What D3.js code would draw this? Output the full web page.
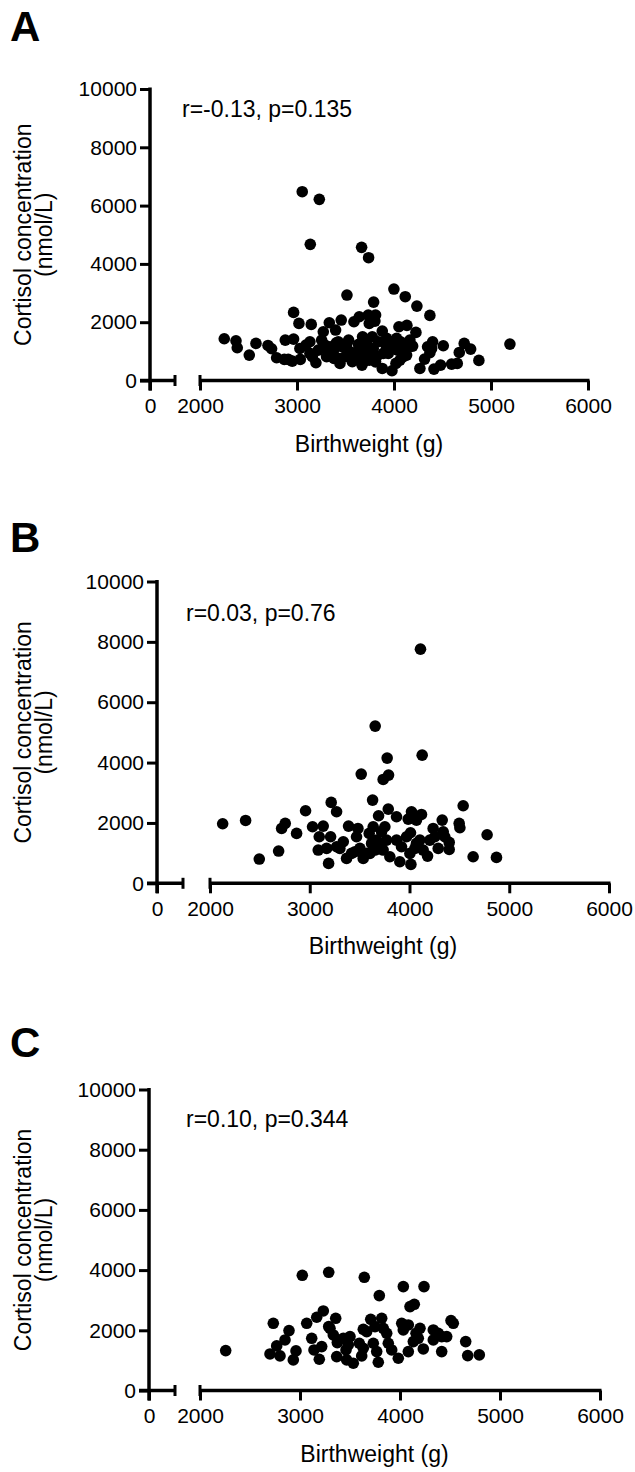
<!DOCTYPE html>
<html><head><meta charset="utf-8">
<script src="https://cdn.jsdelivr.net/npm/d3@7"></script>
<style>
html,body{margin:0;padding:0;background:#fff;}
svg text{font-family:"Liberation Sans",Arial,Helvetica,sans-serif;fill:#000;}
</style></head>
<body>
<svg id="chart" width="635" height="1472"></svg>
<script>
// ---------- data ----------
const panelLabels = ["A", "B", "C"];
const annotations = ["r=-0.13, p=0.135", "r=0.03, p=0.76", "r=0.10, p=0.344"];
const yTicks = [0, 2000, 4000, 6000, 8000, 10000];
const xTicksLow = [0];
const xTicksHigh = [2000, 3000, 4000, 5000, 6000];
const yTitle = ["Cortisol concentration", "(nmol/L)"];
const xTitle = "Birthweight (g)";

const aX = [3054,3230,3137,3666,3738,3999,3515,4116,4236,3790,4370,2965,3020,3147,3333,3456,3587,3642,3735,3810,3745,3803,4051,4133,3879,4226,3271,3398,2250,2371,2384,2508,2577,2701,2738,2790,2879,2965,2869,2951,3034,3030,3133,3133,3195,3219,3254,3340,3381,3443,3463,3532,3546,3570,3632,3670,3676,3711,3745,3776,3786,3821,3879,3917,3941,3979,4027,4037,4061,4102,4130,4192,4267,4315,4346,4398,4412,4480,4508,4594,4652,4673,4724,4790,4875,5195,4370,4388,3374,3426,3494,3511,3587,3649,3700,3718,3752,3838,3924,3993,4068,4096,4157,3305,3322,3436,3635,2910,3092,3158,3288,3405,3560,3690,3810,3889,4020,4164,3941];
const aY = [6477,6214,4670,4567,4212,3137,2931,2874,2553,2690,2233,2336,1958,1924,1981,2073,2016,2187,2245,2245,1958,2038,1844,1890,1695,1650,1672,1730,1432,1364,1123,872,1272,1203,1089,780,1386,1421,723,666,723,1100,1329,929,609,1043,1386,1158,757,586,1158,1386,986,643,1043,529,1501,929,700,1501,1100,815,414,1215,929,334,1444,1043,700,1158,872,1180,414,734,1158,1329,391,529,1192,563,586,963,1272,1078,689,1249,952,1100,986,1329,815,1215,700,815,1158,1329,1043,1329,1444,1158,1329,815,1158,815,986,757,1238,723,1215,815,1215,1290,860,650,640,929,586,1386,1329];

const bX = [4110,3656,4127,3776,3736,3790,3516,3630,3215,3269,2958,3787,3870,3690,4020,4120,4070,3987,4538,4328,4498,4505,2127,2357,2754,2718,2868,2494,2688,3189,3028,3135,3095,3209,3085,3169,3389,3483,3336,3302,3369,3419,3469,3503,3536,3596,3636,3670,3720,3653,3753,3770,3803,3870,3903,3920,4010,4004,4014,4104,4137,4181,4204,4237,4254,4288,4338,4354,4398,4398,4638,4778,4872,3269,3570,3703,3970,4070,4054,3620,3453,3736,3603];
const bY = [7758,5208,4247,4148,3441,3585,3618,2757,2680,2370,2404,2459,2205,2238,2370,2282,2094,2128,2569,2094,1984,1840,1973,2083,1984,1818,1653,803,1068,659,1874,1896,1542,1542,1101,1156,1896,1818,1377,1156,825,991,1542,1156,825,1653,1874,1432,1708,1101,1874,1432,880,1432,714,1211,1675,991,626,1432,1101,902,1432,1818,1542,1156,1708,1542,1123,1355,880,1609,858,1211,991,1211,1542,1322,1156,1322,1046,1101,991];

const cX = [2257,3023,3287,3643,4033,4240,3793,4100,4143,3233,3167,3067,2733,3357,3287,3707,3817,3750,3633,3867,4017,4083,4033,4200,4333,4417,4467,4333,4510,4533,4657,4677,4793,2890,2850,2767,2700,2800,2933,2960,3117,3140,3217,3193,3333,3373,3433,3500,3460,3367,3467,3533,3617,3593,3733,3767,3783,3883,3917,3983,4083,4133,4160,4233,4417,3300,3667,3833,3483,3633,4183,4383];
const cY = [1326,3827,3927,3761,3451,3451,3152,2787,2864,2643,2433,2233,2233,2399,2123,2366,2399,2123,2034,1901,2233,2178,2012,2067,2012,1791,1791,1680,2322,2233,1625,1160,1182,1990,1680,1481,1215,1149,1016,1315,1735,1348,1459,1038,1846,1592,1735,1791,1348,1127,1016,905,1149,1570,1570,1293,938,1570,1348,1071,1293,1625,1901,1381,1293,2067,1957,2067,1514,1403,1735,1901];

// ---------- layout ----------
const panels = [
  {xs: aX, ys: aY, axisX: 150, y0: 380.5, y1: 89,    x2000: 200, x6000: 588, lowEnd: 175, labelY: 41,   annX: 182, annY: 117},
  {xs: bX, ys: bY, axisX: 157, y0: 883.3, y1: 581.5, x2000: 210, x6000: 609, lowEnd: 183, labelY: 552,  annX: 186, annY: 621},
  {xs: cX, ys: cY, axisX: 149, y0: 1390.5,y1: 1089.5,x2000: 200, x6000: 600, lowEnd: 175, labelY: 1057, annX: 186, annY: 1127}
];

const svg = d3.select("#chart");
const SW = 3.5, TICK = 10;

panels.forEach((p, i) => {
  const g = svg.append("g");
  const y = d3.scaleLinear().domain([0, 10000]).range([p.y0, p.y1]);
  const x = d3.scaleLinear().domain([2000, 6000]).range([p.x2000, p.x6000]);
  const xLow = d3.scaleLinear().domain([0, 250]).range([p.axisX, p.lowEnd]);

  // panel letter
  g.append("text").attr("x", 10).attr("y", p.labelY)
    .style("font-size", "42px").style("font-weight", "bold").text(panelLabels[i]);

  // y axis
  const ya = g.append("g").attr("transform", `translate(${p.axisX},0)`)
    .call(d3.axisLeft(y).tickValues(yTicks).tickSize(TICK).tickSizeOuter(0).tickPadding(3).tickFormat(d3.format("d")));
  ya.select(".domain").remove();
  ya.selectAll(".tick line").attr("stroke-width", 3);
  ya.selectAll(".tick text").style("font-size", "21px");
  g.append("line").attr("x1", p.axisX).attr("x2", p.axisX)
    .attr("y1", y(10000) - 1.5).attr("y2", p.y0 + TICK)
    .attr("stroke", "#000").attr("stroke-width", SW);

  // x axis, low segment
  const xl = g.append("g").attr("transform", `translate(0,${p.y0})`)
    .call(d3.axisBottom(xLow).tickValues(xTicksLow).tickSize(TICK).tickSizeOuter(0).tickPadding(8));
  xl.select(".domain").remove();
  xl.selectAll(".tick line").attr("stroke-width", 3);
  xl.selectAll(".tick text").style("font-size", "21px");
  // x axis, high segment
  const xh = g.append("g").attr("transform", `translate(0,${p.y0})`)
    .call(d3.axisBottom(x).tickValues(xTicksHigh).tickSize(TICK).tickSizeOuter(0).tickPadding(8).tickFormat(d3.format("d")));
  xh.select(".domain").remove();
  xh.selectAll(".tick line").attr("stroke-width", 3);
  xh.selectAll(".tick text").style("font-size", "21px");

  // axis lines with break caps
  g.append("line").attr("x1", p.axisX - TICK).attr("x2", xLow(250))
    .attr("y1", p.y0).attr("y2", p.y0).attr("stroke", "#000").attr("stroke-width", SW);
  g.append("line").attr("x1", x(2000)).attr("x2", x(6000) + 1.5)
    .attr("y1", p.y0).attr("y2", p.y0).attr("stroke", "#000").attr("stroke-width", SW);
  [xLow(250), x(2000)].forEach(cx => {
    g.append("line").attr("x1", cx).attr("x2", cx)
      .attr("y1", p.y0 - 5.5).attr("y2", p.y0 + 5.5)
      .attr("stroke", "#000").attr("stroke-width", 3);
  });

  // titles
  const midY = (p.y0 + p.y1) / 2;
  const yt = g.append("text").attr("transform", `translate(31,${midY}) rotate(-90)`)
    .attr("text-anchor", "middle").style("font-size", "23px");
  yt.append("tspan").attr("x", 0).attr("y", 0).text(yTitle[0]);
  yt.append("tspan").attr("x", 0).attr("y", 21).text(yTitle[1]);

  g.append("text").attr("x", (p.axisX + p.x6000) / 2).attr("y", p.y0 + 71)
    .attr("text-anchor", "middle").style("font-size", "23px").text(xTitle);

  g.append("text").attr("x", p.annX).attr("y", p.annY).style("font-size", "23px").text(annotations[i]);

  // points
  g.append("g").selectAll("circle").data(p.xs.map((v, k) => [v, p.ys[k]])).join("circle")
    .attr("cx", d => x(d[0])).attr("cy", d => y(d[1])).attr("r", 5.8).attr("fill", "#000");
});
</script>
</body></html>
